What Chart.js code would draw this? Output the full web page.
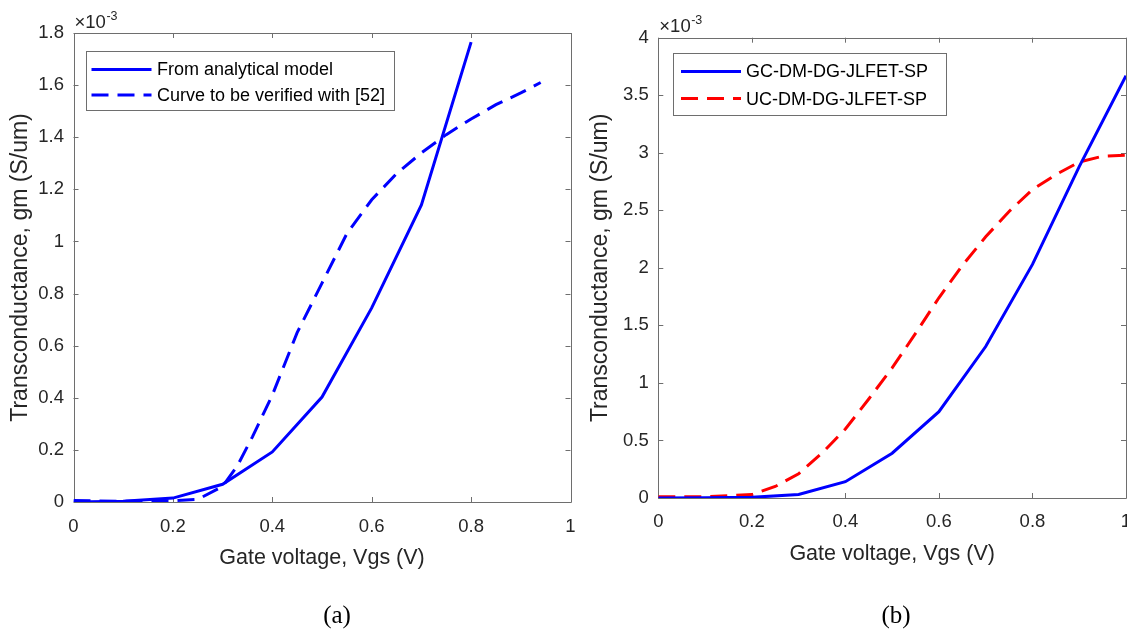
<!DOCTYPE html>
<html><head><meta charset="utf-8">
<script src="https://cdn.jsdelivr.net/npm/chart.js@4"></script>
<style>
html,body{margin:0;padding:0;background:#fff;overflow:hidden;width:1127px;height:632px;position:relative}
#ca{position:absolute;left:0;top:0}
#cb{position:absolute;left:580px;top:0}
.cap{position:absolute;font-family:"Liberation Serif","Times New Roman",serif;font-size:25px;color:#000;transform:translate(-50%,-50%);white-space:nowrap}
</style></head><body>
<canvas id="ca" width="580" height="632" style="width:580px;height:632px"></canvas>
<canvas id="cb" width="570" height="632" style="width:570px;height:632px"></canvas>
<div class="cap" style="left:337px;top:615px">(a)</div>
<div class="cap" style="left:896px;top:615px">(b)</div>
<script>
// ---------- data (gm values in units of 1e-3 S/um) ----------
const vgsModelA = [0, 0.1, 0.2, 0.3, 0.4, 0.5, 0.6, 0.7, 0.8];
const gmModelA  = [0, 0.003, 0.015, 0.068, 0.192, 0.403, 0.745, 1.14, 1.765];
const vgsRefA   = [0, 0.05, 0.1, 0.15, 0.2, 0.25, 0.3, 0.33, 0.36, 0.4, 0.45, 0.5, 0.55, 0.6, 0.65, 0.7, 0.75, 0.8, 0.85, 0.9, 0.94];
const gmRefA    = [0.006, 0.004, 0.003, 0.004, 0.005, 0.01, 0.06, 0.14, 0.25, 0.41, 0.65, 0.84, 1.03, 1.16, 1.26, 1.34, 1.41, 1.47, 1.525, 1.57, 1.61];
const vgsGC     = [0, 0.1, 0.2, 0.3, 0.4, 0.5, 0.6, 0.7, 0.8, 0.9, 1.0];
const gmGC      = [0, 0.002, 0.006, 0.03, 0.142, 0.389, 0.75, 1.316, 2.03, 2.88, 3.67];
const vgsUC     = [0, 0.05, 0.1, 0.15, 0.2, 0.25, 0.3, 0.35, 0.4, 0.45, 0.5, 0.55, 0.6, 0.65, 0.7, 0.75, 0.8, 0.85, 0.9, 0.95, 1.0];
const gmUC      = [0.01, 0.01, 0.01, 0.02, 0.03, 0.1, 0.21, 0.39, 0.6, 0.86, 1.13, 1.43, 1.74, 2.02, 2.27, 2.49, 2.68, 2.81, 2.92, 2.97, 2.98];

const labelsA = ['From analytical model', 'Curve to be verified with [52]'];
const labelsB = ['GC-DM-DG-JLFET-SP', 'UC-DM-DG-JLFET-SP'];

const xTicks      = [0, 0.2, 0.4, 0.6, 0.8, 1];
const xTickLabels = ['0', '0.2', '0.4', '0.6', '0.8', '1'];
const yTicksA      = [0, 0.2, 0.4, 0.6, 0.8, 1, 1.2, 1.4, 1.6, 1.8];
const yTickLabelsA = ['0', '0.2', '0.4', '0.6', '0.8', '1', '1.2', '1.4', '1.6', '1.8'];
const yTicksB      = [0, 0.5, 1, 1.5, 2, 2.5, 3, 3.5, 4];
const yTickLabelsB = ['0', '0.5', '1', '1.5', '2', '2.5', '3', '3.5', '4'];

const xTitle = 'Gate voltage, Vgs (V)';
const yTitle = 'Transconductance, gm (S/um)';
const expBase = '\u00d710';
const expPow = '-3';

// ---------- styling / helpers ----------
const FONT = '"Liberation Sans", Arial, Helvetica, sans-serif';
const TXT = '#262626';
const AXC = '#6e6e6e';
const pts = (xs, ys) => xs.map((v, i) => ({x: v, y: ys[i]}));

const framePlugin = {
  id: 'frame',
  beforeDatasetsDraw(chart, args, o) {
    const {ctx, chartArea: {left, right, top, bottom}, scales: {x, y}} = chart;
    ctx.save();
    ctx.strokeStyle = AXC; ctx.lineWidth = 1;
    ctx.beginPath();
    x.ticks.forEach(t => {
      const p = Math.round(x.getPixelForValue(t.value)) + 0.5;
      ctx.moveTo(p, bottom); ctx.lineTo(p, bottom - o.len);
      ctx.moveTo(p, top); ctx.lineTo(p, top + o.len);
    });
    y.ticks.forEach(t => {
      const p = Math.round(y.getPixelForValue(t.value)) + 0.5;
      ctx.moveTo(left, p); ctx.lineTo(left + o.len, p);
      ctx.moveTo(right, p); ctx.lineTo(right - o.len, p);
    });
    ctx.stroke();
    ctx.beginPath();
    ctx.rect(Math.round(left) + 0.5, Math.round(top) + 0.5, Math.round(right - left), Math.round(bottom - top));
    ctx.stroke();
    // exponent label
    ctx.fillStyle = TXT;
    ctx.textBaseline = 'alphabetic';
    ctx.textAlign = 'left';
    ctx.font = o.expSize + 'px ' + FONT;
    const bx = left + o.expDx, by = top - o.expDy;
    ctx.fillText(expBase, bx, by);
    const w = ctx.measureText(expBase).width;
    ctx.font = o.supSize + 'px ' + FONT;
    ctx.fillText(expPow, bx + w + 0.5, by - o.supRise);
    ctx.restore();
  }
};

const legendPlugin = {
  id: 'boxLegend',
  afterDatasetsDraw(chart, args, o) {
    const {ctx} = chart;
    ctx.save();
    ctx.fillStyle = '#fff';
    ctx.strokeStyle = AXC; ctx.lineWidth = 1;
    ctx.fillRect(o.x, o.y, o.w, o.h);
    ctx.strokeRect(Math.round(o.x) + 0.5, Math.round(o.y) + 0.5, Math.round(o.w), Math.round(o.h));
    chart.data.datasets.forEach((ds, i) => {
      const ry = o.rows[i];
      ctx.strokeStyle = ds.borderColor;
      ctx.lineWidth = ds.borderWidth;
      ctx.setLineDash(ds.borderDash || []);
      ctx.beginPath();
      ctx.moveTo(o.lx0, ry); ctx.lineTo(o.lx1, ry);
      ctx.stroke();
      ctx.setLineDash([]);
      ctx.fillStyle = '#000';
      ctx.font = o.size + 'px ' + FONT;
      ctx.textBaseline = 'middle';
      ctx.textAlign = 'left';
      ctx.fillText(ds.label, o.tx, ry + 1);
    });
    ctx.restore();
  }
};

function makeChart(id, datasets, yMax, yTicks, yTickLabels, geom) {
  return new Chart(document.getElementById(id), {
    type: 'scatter',
    data: {datasets},
    plugins: [framePlugin, legendPlugin],
    options: {
      responsive: false,
      animation: false,
      layout: {padding: {left: 0, top: geom.top, right: geom.right, bottom: geom.bottom}},
      plugins: {
        legend: {display: false},
        tooltip: {enabled: false},
        frame: {len: 5, expSize: 18.5, supSize: 12.5, supRise: 8, expDx: 1, expDy: geom.expDy},
        boxLegend: geom.legend
      },
      elements: {point: {radius: 0}, line: {tension: 0}},
      scales: {
        x: {
          type: 'linear', min: 0, max: 1, position: 'bottom',
          grid: {display: false, drawTicks: false}, border: {display: false},
          afterBuildTicks: s => { s.ticks = xTicks.map(v => ({value: v})); },
          afterFit: s => { s.height = geom.xH; s.paddingLeft = 0; s.paddingRight = 0; },
          ticks: {padding: geom.xPad, color: TXT, font: {family: FONT, size: 18.5},
                  maxRotation: 0, autoSkip: false,
                  callback: (v, i) => xTickLabels[i]},
          title: {display: true, text: xTitle, color: TXT, font: {family: FONT, size: 21.5},
                  padding: {top: 0, bottom: geom.xTitlePad}}
        },
        y: {
          type: 'linear', min: 0, max: yMax, position: 'left',
          grid: {display: false, drawTicks: false}, border: {display: false},
          afterBuildTicks: s => { s.ticks = yTicks.map(v => ({value: v})); },
          afterFit: s => { s.width = geom.yW; s.paddingTop = 0; s.paddingBottom = 0; },
          ticks: {padding: 9.5, color: TXT, font: {family: FONT, size: 18.5}, autoSkip: false,
                  callback: (v, i) => yTickLabels[i]},
          title: {display: true, text: yTitle, color: TXT, font: {family: FONT, size: 23},
                  padding: {top: 7, bottom: 0}}
        }
      }
    }
  });
}

makeChart('ca', [
  {label: labelsA[0], data: pts(vgsModelA, gmModelA), showLine: true, borderColor: '#0000ff', borderWidth: 3},
  {label: labelsA[1], data: pts(vgsRefA, gmRefA), showLine: true, borderColor: '#0000ff', borderWidth: 3, borderDash: [17, 9]}
], 1.8, yTicksA, yTickLabelsA, {
  top: 33, right: 9.5, bottom: 57, xH: 73, xPad: 14, xTitlePad: 4, yW: 73.5, expDy: 5,
  legend: {x: 86, y: 50.5, w: 308, h: 59, rows: [69.5, 95], lx0: 91.5, lx1: 151.5, tx: 157, size: 18}
});

makeChart('cb', [
  {label: labelsB[0], data: pts(vgsGC, gmGC), showLine: true, borderColor: '#0000ff', borderWidth: 3},
  {label: labelsB[1], data: pts(vgsUC, gmUC), showLine: true, borderColor: '#ff0000', borderWidth: 3, borderDash: [17, 9]}
], 4, yTicksB, yTickLabelsB, {
  top: 37.7, right: 24, bottom: 61, xH: 73, xPad: 13, xTitlePad: 4, yW: 78.3, expDy: 5.5,
  legend: {x: 92.8, y: 52.9, w: 273, h: 61.6, rows: [71.4, 98.6], lx0: 101, lx1: 161, tx: 166, size: 18}
});
</script>
</body></html>
